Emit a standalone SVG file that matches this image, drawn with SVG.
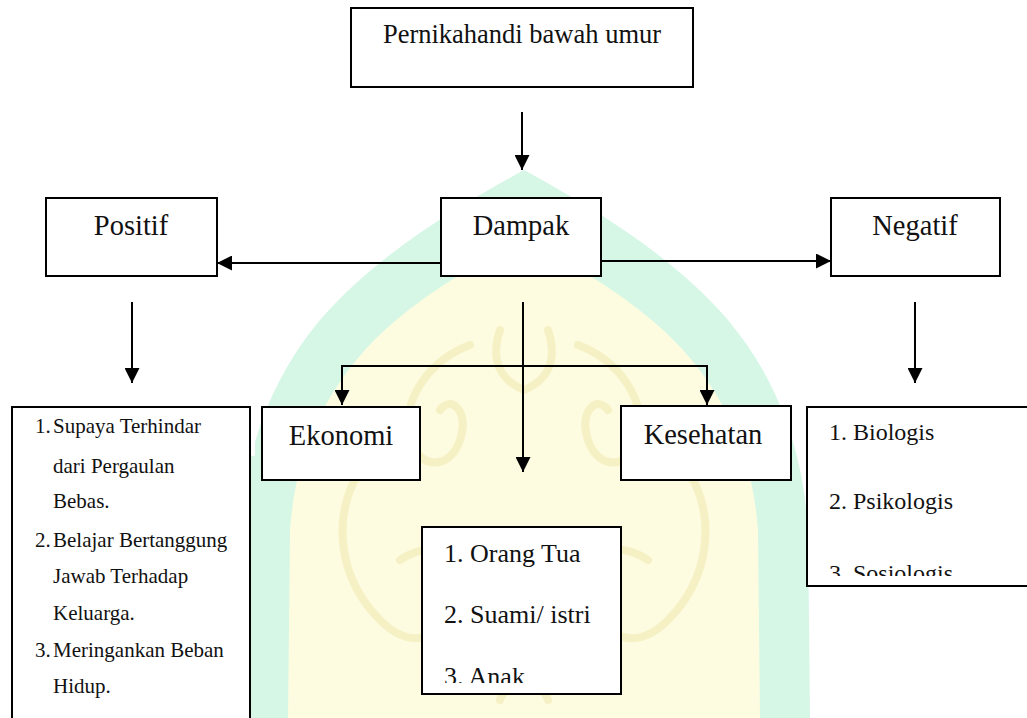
<svg xmlns="http://www.w3.org/2000/svg" width="1027" height="718" viewBox="0 0 1027 718">
<defs>
<style>
.box{fill:#fff;stroke:#000;stroke-width:2}
.lbl{font-size:28.5px;fill:#111;text-anchor:middle}
.ttl{font-size:26.5px;fill:#111;text-anchor:middle}
.lst{fill:#111}
.ln{fill:none;stroke:#000;stroke-width:2}
.orn{fill:none;stroke:#efe3a6;stroke-width:8;stroke-linejoin:round;stroke-linecap:round}
</style>
<marker id="ah" viewBox="0 0 10 10" refX="10" refY="5" markerWidth="15" markerHeight="15" markerUnits="userSpaceOnUse" orient="auto">
<path d="M0,0 L10,5 L0,10 Z" fill="#000"/>
</marker>
<clipPath id="clipC"><rect x="422" y="527" width="199" height="156"/></clipPath>
<clipPath id="clipR"><rect x="807" y="407" width="220" height="169"/></clipPath>
</defs>
<rect width="1027" height="718" fill="#fff"/>
<g id="watermark">
<path d="M524,170 C470,200 380,250 320,320 C270,380 245,450 240,530 L238,718 L810,718 L808,530 C803,450 778,380 728,320 C668,250 578,200 524,170 Z" fill="#d6f7e6"/>
<path d="M524,238 C480,262 410,300 365,350 C320,400 295,460 290,530 L288,718 L760,718 L758,530 C753,460 728,400 683,350 C638,300 568,262 524,238 Z" fill="#fdfce0"/>
<g opacity="0.45">
<path class="orn" d="M470,345 C430,360 400,400 410,440 C420,470 450,470 460,440 C470,410 450,395 440,410"/>
<path class="orn" d="M578,345 C618,360 648,400 638,440 C628,470 598,470 588,440 C578,410 598,395 608,410"/>
<path class="orn" d="M360,470 C330,520 340,580 380,620 C410,650 440,640 450,610"/>
<path class="orn" d="M688,470 C718,520 708,580 668,620 C638,650 608,640 598,610"/>
<path class="orn" d="M500,330 C490,360 500,380 524,390 C548,380 558,360 548,330"/>
<path class="orn" d="M400,560 C430,540 460,550 470,580"/>
<path class="orn" d="M648,560 C618,540 588,550 578,580"/>
<path class="orn" d="M500,700 C505,680 543,680 548,700"/>
</g>
</g>
<g id="connectors">
<line class="ln" x1="522" y1="112" x2="522" y2="170" marker-end="url(#ah)"/>
<line class="ln" x1="441" y1="263" x2="217" y2="263" marker-end="url(#ah)"/>
<line class="ln" x1="601" y1="261" x2="831" y2="261" marker-end="url(#ah)"/>
<line class="ln" x1="132" y1="302" x2="132" y2="383" marker-end="url(#ah)"/>
<line class="ln" x1="915" y1="302" x2="915" y2="383" marker-end="url(#ah)"/>
<line class="ln" x1="523" y1="302" x2="523" y2="472" marker-end="url(#ah)"/>
<polyline class="ln" points="342,395 342,366 707,366 707,395"/>
<line class="ln" x1="342" y1="366" x2="342" y2="405" marker-end="url(#ah)"/>
<line class="ln" x1="707" y1="366" x2="707" y2="405" marker-end="url(#ah)"/>
</g>
<g font-family="Liberation Serif, Times New Roman, DejaVu Serif, serif">
<g id="node-title">
<rect class="box" x="351" y="8" width="342" height="79"/>
<text class="ttl" x="522" y="43">Pernikahandi bawah umur</text>
</g>
<g id="node-positif">
<rect class="box" x="46" y="198" width="171" height="78"/>
<text class="lbl" x="131" y="235">Positif</text>
</g>
<g id="node-dampak">
<rect class="box" x="441" y="198" width="160" height="78"/>
<text class="lbl" x="521" y="235">Dampak</text>
</g>
<g id="node-negatif">
<rect class="box" x="831" y="198" width="169" height="78"/>
<text class="lbl" x="915" y="235">Negatif</text>
</g>
<g id="node-ekonomi">
<rect class="box" x="262" y="407" width="158" height="73"/>
<text class="lbl" x="341" y="445">Ekonomi</text>
</g>
<g id="node-kesehatan">
<rect class="box" x="621" y="406" width="170" height="74"/>
<text class="lbl" x="703" y="444">Kesehatan</text>
</g>
<g id="node-positif-list">
<path class="box" d="M12,720 L12,407 L250,407 L250,720"/>
<g class="lst" font-size="21">
<text x="35" y="433">1.</text><text x="53" y="433">Supaya Terhindar</text>
<text x="53" y="473">dari Pergaulan</text>
<text x="53" y="508">Bebas.</text>
<text x="35" y="547">2.</text><text x="53" y="547">Belajar Bertanggung</text>
<text x="53" y="583">Jawab Terhadap</text>
<text x="53" y="620">Keluarga.</text>
<text x="35" y="657">3.</text><text x="53" y="657">Meringankan Beban</text>
<text x="53" y="693">Hidup.</text>
</g>
</g>
<g id="node-pihak-list">
<rect class="box" x="422" y="527" width="199" height="167"/>
<g class="lst" font-size="26" clip-path="url(#clipC)">
<text x="444" y="562">1. Orang Tua</text>
<text x="444" y="623">2. Suami/ istri</text>
<text x="444" y="685">3. Anak</text>
</g>
</g>
<g id="node-negatif-list">
<path class="box" d="M1030,407 L807,407 L807,586 L1030,586"/>
<g class="lst" font-size="24" clip-path="url(#clipR)">
<text x="829" y="440">1. Biologis</text>
<text x="829" y="509">2. Psikologis</text>
<text x="829" y="581">3. Sosiologis</text>
</g>
</g>
</g>
</svg>
